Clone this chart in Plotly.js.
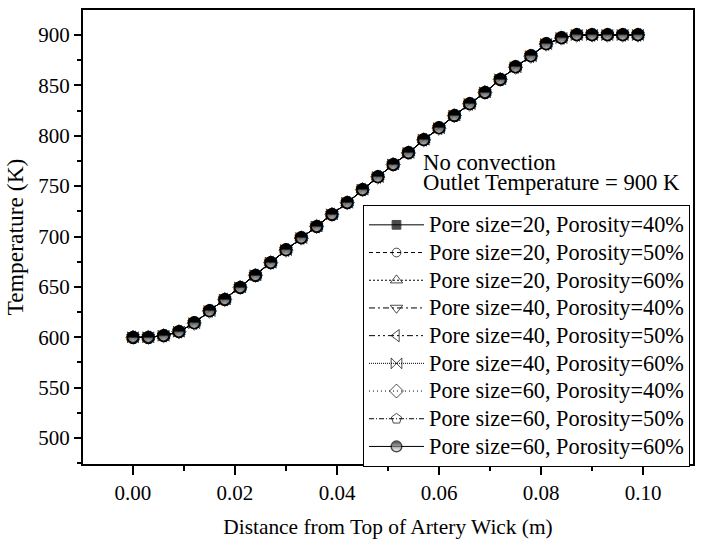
<!DOCTYPE html>
<html>
<head>
<meta charset="utf-8">
<script src="https://cdn.plot.ly/plotly-3.0.1.min.js"></script>
<style>html,body{margin:0;padding:0;background:#fff;}#chart{width:703px;height:541px;}</style>
</head>
<body>
<div id="chart"></div>
<script>
// Distance from top of artery wick (m)
const distance = [0, 0.003, 0.006, 0.009, 0.012, 0.015, 0.018, 0.021, 0.024, 0.027,
  0.030, 0.033, 0.036, 0.039, 0.042, 0.045, 0.048, 0.051, 0.054, 0.057,
  0.060, 0.063, 0.066, 0.069, 0.072, 0.075, 0.078, 0.081, 0.084, 0.087,
  0.090, 0.093, 0.096, 0.099, 0.100];
// Temperature (K) for each case (the curves coincide in the figure)
const temp_p20_40 = [600, 600, 601.5, 605.5, 614, 626, 637.5, 649.5, 661.5, 674, 686.5, 698.5, 710, 722, 733.5, 746.5, 759, 771.5, 783, 796, 807.5, 820, 831.5, 843, 856, 868, 879, 891, 897, 900, 900, 900, 900, 900, 900];
const temp_p20_50 = [600, 600, 601.5, 605.5, 614, 626, 637.5, 649.5, 661.5, 674, 686.5, 698.5, 710, 722, 733.5, 746.5, 759, 771.5, 783, 796, 807.5, 820, 831.5, 843, 856, 868, 879, 891, 897, 900, 900, 900, 900, 900, 900];
const temp_p20_60 = [600, 600, 601.5, 605.5, 614, 626, 637.5, 649.5, 661.5, 674, 686.5, 698.5, 710, 722, 733.5, 746.5, 759, 771.5, 783, 796, 807.5, 820, 831.5, 843, 856, 868, 879, 891, 897, 900, 900, 900, 900, 900, 900];
const temp_p40_40 = [600, 600, 601.5, 605.5, 614, 626, 637.5, 649.5, 661.5, 674, 686.5, 698.5, 710, 722, 733.5, 746.5, 759, 771.5, 783, 796, 807.5, 820, 831.5, 843, 856, 868, 879, 891, 897, 900, 900, 900, 900, 900, 900];
const temp_p40_50 = [600, 600, 601.5, 605.5, 614, 626, 637.5, 649.5, 661.5, 674, 686.5, 698.5, 710, 722, 733.5, 746.5, 759, 771.5, 783, 796, 807.5, 820, 831.5, 843, 856, 868, 879, 891, 897, 900, 900, 900, 900, 900, 900];
const temp_p40_60 = [600, 600, 601.5, 605.5, 614, 626, 637.5, 649.5, 661.5, 674, 686.5, 698.5, 710, 722, 733.5, 746.5, 759, 771.5, 783, 796, 807.5, 820, 831.5, 843, 856, 868, 879, 891, 897, 900, 900, 900, 900, 900, 900];
const temp_p60_40 = [600, 600, 601.5, 605.5, 614, 626, 637.5, 649.5, 661.5, 674, 686.5, 698.5, 710, 722, 733.5, 746.5, 759, 771.5, 783, 796, 807.5, 820, 831.5, 843, 856, 868, 879, 891, 897, 900, 900, 900, 900, 900, 900];
const temp_p60_50 = [600, 600, 601.5, 605.5, 614, 626, 637.5, 649.5, 661.5, 674, 686.5, 698.5, 710, 722, 733.5, 746.5, 759, 771.5, 783, 796, 807.5, 820, 831.5, 843, 856, 868, 879, 891, 897, 900, 900, 900, 900, 900, 900];
const temp_p60_60 = [600, 600, 601.5, 605.5, 614, 626, 637.5, 649.5, 661.5, 674, 686.5, 698.5, 710, 722, 733.5, 746.5, 759, 771.5, 783, 796, 807.5, 820, 831.5, 843, 856, 868, 879, 891, 897, 900, 900, 900, 900, 900, 900];

const seriesNames = [
  'Pore size=20, Porosity=40%', 'Pore size=20, Porosity=50%', 'Pore size=20, Porosity=60%',
  'Pore size=40, Porosity=40%', 'Pore size=40, Porosity=50%', 'Pore size=40, Porosity=60%',
  'Pore size=60, Porosity=40%', 'Pore size=60, Porosity=50%', 'Pore size=60, Porosity=60%'
];
const seriesValues = [temp_p20_40, temp_p20_50, temp_p20_60, temp_p40_40, temp_p40_50, temp_p40_60, temp_p60_40, temp_p60_50, temp_p60_60];
const xTicks = [0, 0.02, 0.04, 0.06, 0.08, 0.10];
const yTicks = [500, 550, 600, 650, 700, 750, 800, 850, 900];

const styles = [
  {symbol: 'square', color: 'black', size: 9, dash: 'solid'},
  {symbol: 'circle-open', color: 'black', size: 9, dash: '4px,3px'},
  {symbol: 'triangle-up-open', color: 'black', size: 11, dash: '2px,2px'},
  {symbol: 'triangle-down-open', color: 'black', size: 11, dash: '6px,3px,2px,3px'},
  {symbol: 'triangle-left-open', color: 'black', size: 11, dash: '6px,3px,2px,3px,2px,3px'},
  {symbol: 'bowtie-open', color: 'black', size: 11, dash: '1px,1px'},
  {symbol: 'diamond-open', color: 'black', size: 11, dash: '1px,3px'},
  {symbol: 'pentagon-open', color: 'black', size: 11, dash: '5px,2px,1px,2px'},
  {symbol: 'circle', color: 'black', size: 11, dash: 'solid'}
];

const nMarked = 34;
const legendTextSize = 22.3;
const traces = seriesNames.map((name, k) => {
  const st = styles[k];
  const marker = {
    symbol: st.symbol, color: st.color,
    size: distance.map((d, i) => i < nMarked ? st.size : 0),
    line: {color: 'black', width: k === 8 ? 1.5 : 1}
  };
  if (k === 8) marker.gradient = {type: 'vertical', color: 'white'};
  return {
    x: distance, y: seriesValues[k],
    name: '<span style="font-size:' + legendTextSize + 'px">' + name + '</span>',
    type: 'scatter', mode: 'lines+markers',
    line: {color: 'black', width: 1, dash: st.dash},
    marker: marker,
    hoverinfo: 'skip'
  };
});
// half-filled circle glyphs (upper half black) for the top series
traces.push({
  x: distance, y: temp_p60_60, type: 'scatter', mode: 'text', showlegend: false,
  text: distance.map((d, i) => i < nMarked ? '\u25D3' : ''),
  textposition: 'middle center',
  textfont: {family: 'DejaVu Sans', size: 17, color: 'black'},
  hoverinfo: 'skip'
});

const serif = 'Liberation Serif, Times New Roman, serif';
const layout = {
  width: 703, height: 541,
  margin: {l: 83, r: 10, t: 10, b: 77},
  paper_bgcolor: 'white', plot_bgcolor: 'white',
  font: {family: serif, color: 'black', size: 21},
  showlegend: true,
  xaxis: {
    range: [-0.0098, 0.1098],
    tickvals: xTicks, tickformat: '.2f',
    ticks: 'outside', ticklen: 9, tickwidth: 2, tickcolor: 'black',
    minor: {dtick: 0.01, tick0: 0, ticks: 'outside', ticklen: 5, tickwidth: 2, tickcolor: 'black', showgrid: false},
    showline: true, linewidth: 2, linecolor: 'black', mirror: true,
    showgrid: false, zeroline: false,
    tickfont: {family: serif, size: 21, color: 'black'},
    title: {text: 'Distance from Top of Artery Wick (m)', font: {family: serif, size: 21.4, color: 'black'}, standoff: 15}
  },
  yaxis: {
    range: [474.2, 924.8],
    tickvals: yTicks,
    ticks: 'outside', ticklen: 7, tickwidth: 2, tickcolor: 'black',
    minor: {dtick: 25, tick0: 0, ticks: 'outside', ticklen: 4, tickwidth: 2, tickcolor: 'black', showgrid: false},
    showline: true, linewidth: 2, linecolor: 'black', mirror: true,
    showgrid: false, zeroline: false,
    tickfont: {family: serif, size: 21, color: 'black'},
    title: {text: 'Temperature (K)', font: {family: serif, size: 23.5, color: 'black'}, standoff: 8}
  },
  legend: {
    x: 0.459, y: 0.5705, xanchor: 'left', yanchor: 'top',
    bgcolor: 'white', bordercolor: 'black', borderwidth: 1,
    font: {family: serif, size: 19, color: 'black'},
    itemwidth: 55, tracegroupgap: 0
  },
  annotations: [
    {text: '<span style="font-size:22.7px">No convection</span><br><span style="font-size:22.7px">Outlet Temperature = 900 K</span>',
     xref: 'paper', yref: 'paper', x: 0.5535, y: 0.642, xanchor: 'left', yanchor: 'middle', align: 'left',
     showarrow: false, font: {family: serif, size: 15.5, color: 'black'}}
  ]
};

Plotly.newPlot('chart', traces, layout, {displayModeBar: false, staticPlot: true});
</script>
</body>
</html>
